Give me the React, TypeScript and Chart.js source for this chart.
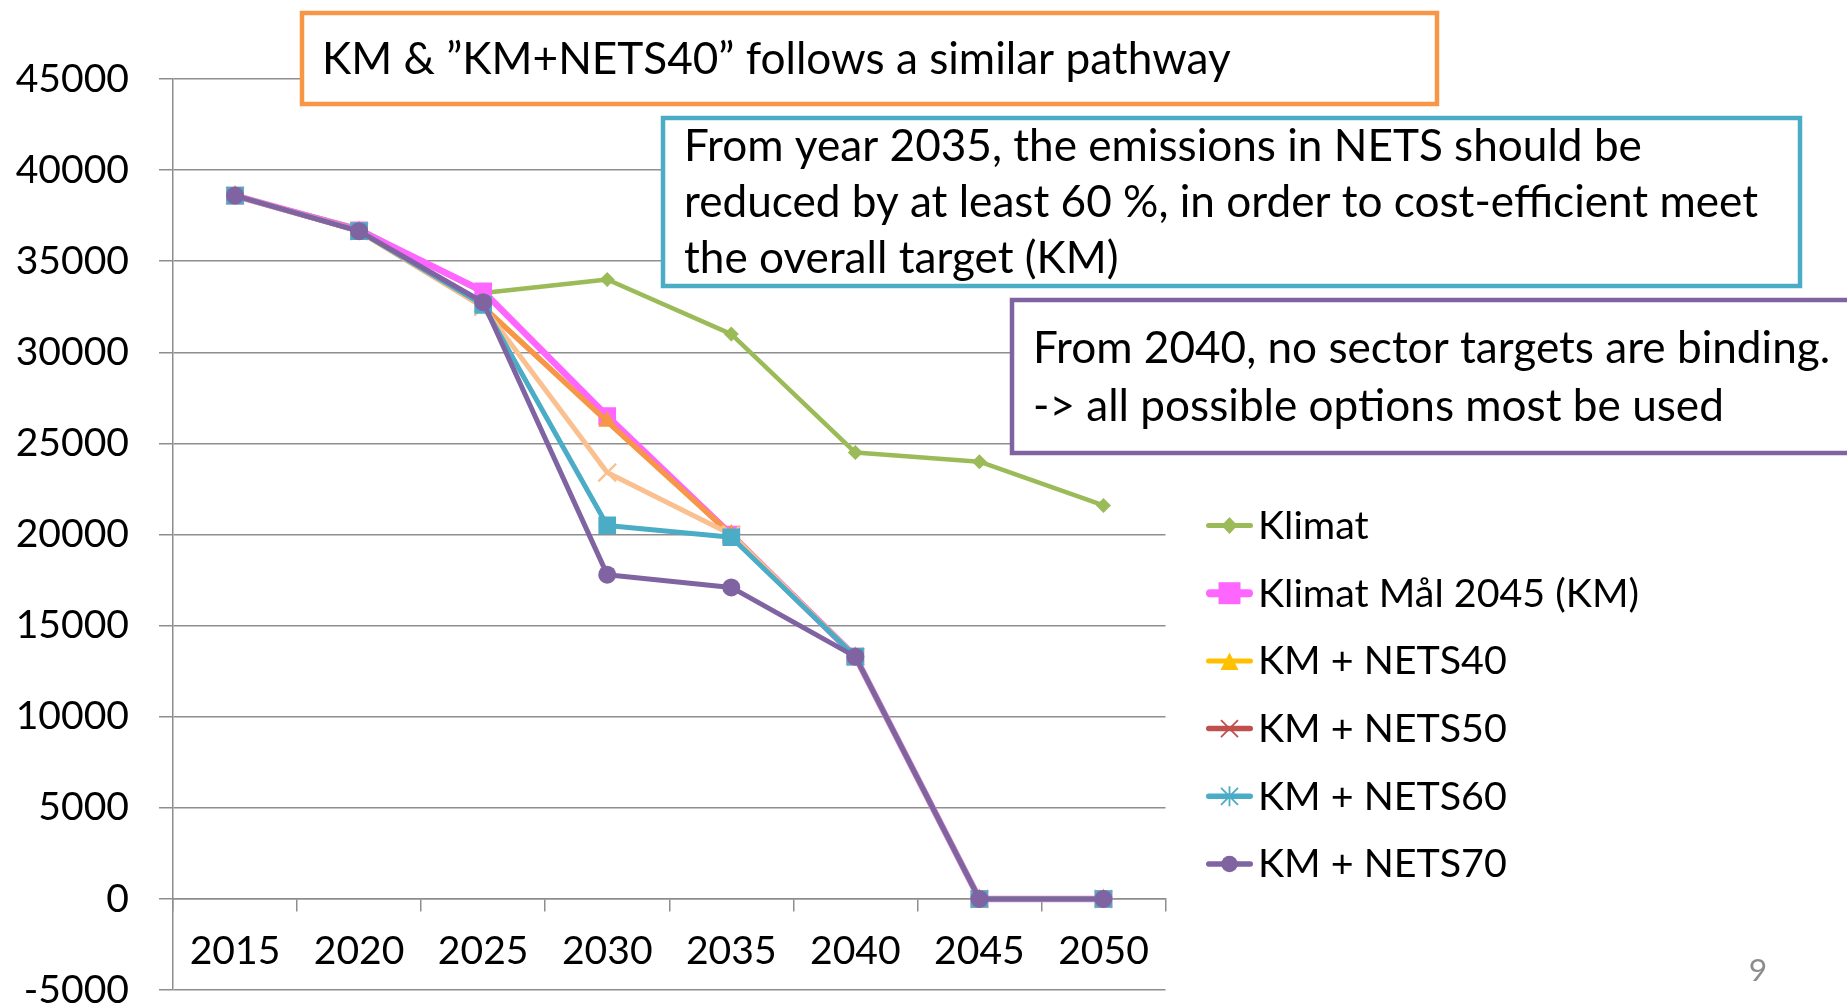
import React, { useEffect, useRef } from 'react';
import { Chart, registerables } from 'chart.js';

Chart.register(...registerables);

// ---------------- DATA ----------------
const YEARS = ['2015', '2020', '2025', '2030', '2035', '2040', '2045', '2050'];
const KLIMAT = [38600, 36800, 33250, 34000, 31000, 24500, 24000, 21600];
const KM = [38600, 36700, 33350, 26500, 20000, 13300, 0, 0];
const KM_NETS40 = [38600, 36650, 32500, 26200, 20000, 13300, 0, 0];
const KM_NETS50 = [38600, 36650, 32500, 23400, 20000, 13300, 0, 0];
const KM_NETS60 = [38600, 36650, 32600, 20500, 19850, 13300, 0, 0];
const KM_NETS70 = [38600, 36650, 32750, 17800, 17100, 13300, 0, 0];
const SERIES_NAMES = ['Klimat', 'Klimat Mål 2045 (KM)', 'KM + NETS40', 'KM + NETS50', 'KM + NETS60', 'KM + NETS70'];
const Y_MIN = -5000;
const Y_MAX = 45000;
const Y_STEP = 5000;
const NOTE_1 = ['KM & \u201DKM+NETS40\u201D follows a similar pathway'];
const NOTE_2 = [
  'From year 2035, the emissions in NETS should be',
  'reduced by at least 60 %, in order to cost-efficient meet',
  'the overall target (KM)',
];
const NOTE_3 = ['From 2040, no sector targets are binding.', '-> all possible options most be used'];
const PAGE_NUMBER = '9';

// ---------------- STYLE ----------------
const FONT_FAMILY = "Lato, 'Open Sans', sans-serif";
const LINE_COLORS = ['#9BBB59', '#FF66FF', '#F79646', '#FAC090', '#4BACC6', '#8064A2'];
const LEGEND_COLORS = ['#9BBB59', '#FF66FF', '#FFC000', '#C0504D', '#4BACC6', '#8064A2'];
const LINE_WIDTHS = [4.5, 6.5, 5.5, 5, 5, 5];
const POINT_STYLES = ['rectRot', 'rect', 'triangle', 'crossRot', 'rect', 'circle'];
const POINT_RADII = [7.5, 12.5, 10.5, 12.5, 12.5, 9];
const LEGEND_MARKERS = ['diamond', 'square', 'triangle', 'x', 'star', 'circle'];
const LEGEND_LINE_WIDTHS = [5, 8, 5, 5.5, 5.5, 5.5];
const GRID = '#8E8E8E';

const W = 1847;
const H = 1005;
const AREA_LEFT = 173;
const AREA_RIGHT = 1165.5;
const AREA_TOP = 79;
const AREA_BOTTOM = 991;

const BOXES = [
  { x0: 302, y0: 13, x1: 1437, y1: 104, color: '#F79646', lines: NOTE_1, tx: 322, base: [74] },
  { x0: 663, y0: 118, x1: 1800, y1: 286, color: '#4BACC6', lines: NOTE_2, tx: 684, base: [161, 217, 273] },
  { x0: 1012, y0: 300, x1: 1900, y1: 453, color: '#8064A2', lines: NOTE_3, tx: 1033, base: [363, 421] },
];

function fitSize(samples: [string, number][]): number {
  const c = document.createElement('canvas').getContext('2d') as CanvasRenderingContext2D;
  c.font = `100px ${FONT_FAMILY}`;
  let m = 0;
  let t = 0;
  for (const [s, w] of samples) {
    m += c.measureText(s).width;
    t += w;
  }
  return (100 * t) / m;
}

function drawMarker(ctx: CanvasRenderingContext2D, kind: string, cx: number, cy: number, color: string) {
  ctx.save();
  ctx.fillStyle = color;
  ctx.strokeStyle = color;
  ctx.beginPath();
  if (kind === 'diamond') {
    ctx.moveTo(cx, cy - 8.5);
    ctx.lineTo(cx + 8, cy);
    ctx.lineTo(cx, cy + 8.5);
    ctx.lineTo(cx - 8, cy);
    ctx.closePath();
    ctx.fill();
  } else if (kind === 'square') {
    ctx.rect(cx - 11, cy - 11, 22, 22);
    ctx.fill();
  } else if (kind === 'triangle') {
    ctx.moveTo(cx, cy - 8.5);
    ctx.lineTo(cx + 9, cy + 9);
    ctx.lineTo(cx - 9, cy + 9);
    ctx.closePath();
    ctx.fill();
  } else if (kind === 'x' || kind === 'star') {
    ctx.lineWidth = 1.8;
    ctx.moveTo(cx - 8.5, cy - 8.5);
    ctx.lineTo(cx + 8.5, cy + 8.5);
    ctx.moveTo(cx + 8.5, cy - 8.5);
    ctx.lineTo(cx - 8.5, cy + 8.5);
    if (kind === 'star') {
      ctx.moveTo(cx, cy - 10);
      ctx.lineTo(cx, cy + 10);
    }
    ctx.stroke();
  } else {
    ctx.arc(cx, cy, 8.3, 0, Math.PI * 2);
    ctx.fill();
  }
  ctx.restore();
}

export default function App() {
  const ref = useRef<HTMLCanvasElement>(null);

  useEffect(() => {
    const canvas = ref.current;
    if (!canvas) return;
    const F_NOTE = fitSize([
      [NOTE_2[1], 1082],
      [NOTE_3[0], 800],
      [NOTE_1[0], 899],
    ]);
    const F_LEG = fitSize([
      [SERIES_NAMES[1], 392],
      [SERIES_NAMES[2], 238],
    ]);
    const F_TICK = fitSize([
      ['45000', 115],
      ['2015', 89],
    ]);
    const tickFont = { family: FONT_FAMILY, size: F_TICK };
    const seriesData = [KLIMAT, KM, KM_NETS40, KM_NETS50, KM_NETS60, KM_NETS70];

    const datasets = seriesData.map((d, i) => ({
      label: SERIES_NAMES[i],
      data: d,
      borderColor: LINE_COLORS[i],
      backgroundColor: LINE_COLORS[i],
      borderWidth: LINE_WIDTHS[i],
      pointStyle: POINT_STYLES[i],
      pointRadius: POINT_RADII[i],
      pointHoverRadius: POINT_RADII[i],
      pointBackgroundColor: LINE_COLORS[i],
      pointBorderColor: LINE_COLORS[i],
      pointBorderWidth: POINT_STYLES[i] === 'crossRot' ? 2.4 : 0,
      borderJoinStyle: 'round',
      borderCapStyle: 'round',
      tension: 0,
      fill: false,
      order: seriesData.length - 1 - i,
    }));

    const overlay = {
      id: 'overlay',
      afterDraw(chart: any) {
        const ctx: CanvasRenderingContext2D = chart.ctx;
        ctx.save();
        // legend
        const legX0 = 1206;
        const legX1 = 1253;
        const legTextX = 1258;
        const legY0 = 525.5;
        const legStep = 67.7;
        ctx.textBaseline = 'alphabetic';
        ctx.textAlign = 'left';
        SERIES_NAMES.forEach((name, i) => {
          const cy = legY0 + i * legStep;
          ctx.save();
          ctx.strokeStyle = LEGEND_COLORS[i];
          ctx.lineWidth = LEGEND_LINE_WIDTHS[i];
          ctx.lineCap = 'round';
          ctx.beginPath();
          ctx.moveTo(legX0 + LEGEND_LINE_WIDTHS[i] / 2, cy);
          ctx.lineTo(legX1 - LEGEND_LINE_WIDTHS[i] / 2, cy);
          ctx.stroke();
          ctx.restore();
          drawMarker(ctx, LEGEND_MARKERS[i], (legX0 + legX1) / 2, cy, LEGEND_COLORS[i]);
          ctx.fillStyle = '#000';
          ctx.font = `${F_LEG}px ${FONT_FAMILY}`;
          ctx.fillText(name, legTextX, cy + 0.34 * F_LEG);
        });
        // annotation boxes
        BOXES.forEach((b) => {
          ctx.fillStyle = '#FFFFFF';
          ctx.fillRect(b.x0, b.y0, b.x1 - b.x0, b.y1 - b.y0);
          ctx.strokeStyle = b.color;
          ctx.lineWidth = 4.5;
          ctx.strokeRect(b.x0, b.y0, b.x1 - b.x0, b.y1 - b.y0);
          ctx.fillStyle = '#000';
          ctx.font = `${F_NOTE}px ${FONT_FAMILY}`;
          b.lines.forEach((line, k) => ctx.fillText(line, b.tx, b.base[k]));
        });
        // page number
        ctx.fillStyle = '#8C8C8C';
        ctx.font = `${0.72 * F_NOTE}px ${FONT_FAMILY}`;
        ctx.textAlign = 'center';
        ctx.fillText(PAGE_NUMBER, 1758, 981);
        ctx.restore();
      },
    };

    const chart = new Chart(canvas, {
      type: 'line',
      data: { labels: YEARS, datasets: datasets as any },
      options: {
        responsive: false,
        animation: false,
        events: [],
        layout: {
          padding: { left: 0, top: AREA_TOP, right: W - AREA_RIGHT, bottom: H - AREA_BOTTOM },
        },
        plugins: {
          legend: { display: false },
          tooltip: { enabled: false },
        },
        scales: {
          x: {
            type: 'category',
            axis: 'x',
            position: { y: 0 } as any,
            offset: true,
            grid: {
              offset: true,
              drawOnChartArea: false,
              drawTicks: true,
              tickLength: 12,
              color: GRID,
              lineWidth: 1.5,
            },
            border: { display: true, color: GRID, width: 1.5 },
            ticks: { color: '#000', font: tickFont, padding: 17, maxRotation: 0, autoSkip: false },
          },
          y: {
            type: 'linear',
            position: 'left',
            min: Y_MIN,
            max: Y_MAX,
            afterFit: (scale: any) => {
              scale.width = AREA_LEFT;
              scale.paddingTop = 0;
              scale.paddingBottom = 0;
            },
            grid: { color: GRID, lineWidth: 1.5, tickLength: 14, drawTicks: true },
            border: { display: true, color: GRID, width: 1.5 },
            ticks: {
              stepSize: Y_STEP,
              color: '#000',
              font: tickFont,
              padding: 30,
              autoSkip: false,
              callback: (v: any) => String(v),
            },
          },
        },
      },
      plugins: [overlay],
    });

    return () => chart.destroy();
  }, []);

  return (
    <div style={{ position: 'fixed', left: 0, top: 0, width: W, height: H, background: '#fff', overflow: 'hidden' }}>
      <canvas ref={ref} width={W} height={H} style={{ display: 'block', width: W, height: H }} />
    </div>
  );
}
